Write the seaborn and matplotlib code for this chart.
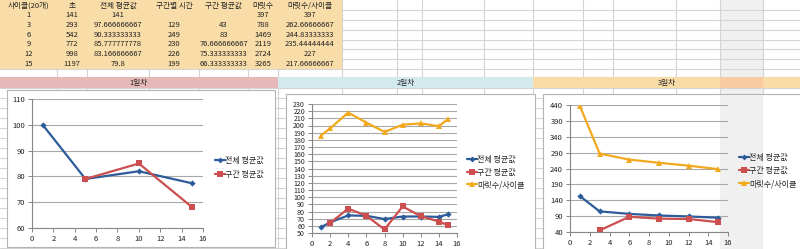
import matplotlib
matplotlib.use("Agg")
import matplotlib.pyplot as plt
import seaborn as sns
import pandas as pd
from matplotlib.patches import Rectangle
from matplotlib.lines import Line2D

sns.set_theme(style="white")
plt.rcParams['font.family'] = ['Noto Sans CJK KR', 'DejaVu Sans']

# ---------------- data ----------------
table_header = ["사이클(20개)", "초", "전체 평균값", "구간별 시간", "구간 평균값", "마릿수", "마릿수/사이클"]
col_cycle = ["1", "3", "6", "9", "12", "15"]
col_sec = ["141", "293", "542", "772", "998", "1197"]
col_total_avg = ["141", "97.666666667", "90.333333333", "85.777777778", "83.166666667", "79.8"]
col_interval_time = ["", "129", "249", "230", "226", "199"]
col_interval_avg = ["", "43", "83", "76.666666667", "75.333333333", "66.333333333"]
col_count = ["397", "788", "1469", "2119", "2724", "3265"]
col_count_per_cycle = ["397", "262.66666667", "244.83333333", "235.44444444", "227", "217.66666667"]

day_titles = ["1일차", "2일차", "3일차"]
series_names = ["전체 평균값", "구간 평균값", "마릿수/사이클"]

d1_x_total = [1, 5, 10, 15]
d1_total = [100, 79, 82, 77.3]
d1_x_int = [5, 10, 15]
d1_int = [79, 85, 68]

d2_x = [1, 2, 4, 6, 8, 10, 12, 14, 15]
d2_total = [58, 65, 74.5, 74, 69.5, 73, 73, 72.5, 76]
d2_x_int = [2, 4, 6, 8, 10, 12, 14, 15]
d2_int = [64, 84, 74, 55, 87, 73.5, 66, 61]
d2_count = [186, 196, 218, 204, 191, 201, 203, 199, 209]

d3_x = [1, 3, 6, 9, 12, 15]
d3_total = [153, 105, 97, 92, 89, 85]
d3_x_int = [3, 6, 9, 12, 15]
d3_int = [45, 88, 82, 81, 71]
d3_count = [437, 287, 268, 258, 249, 238]

x_ticks = list(range(0, 17, 2))
d1_yticks = list(range(60, 111, 10))
d2_yticks = list(range(50, 231, 10))
d3_yticks = list(range(40, 441, 50))

# ---------------- styles ----------------
W, H = 800, 249
BLUE = "#2E5B9A"
RED = "#CC4E4E"
GOLD = "#F2A91E"
GRID = "#D4D4D4"
FS = 5.5

fig = plt.figure(figsize=(W / 100, H / 100), dpi=100)
bg = fig.add_axes([0, 0, 1, 1], zorder=0)
bg.set_xlim(0, W)
bg.set_ylim(H, 0)
bg.axis('off')

# selected column shading
bg.add_patch(Rectangle((720, 0), 43, H, facecolor="#F0F0F0", edgecolor="none", zorder=0))

# spreadsheet gridlines
col_lines = [57, 87, 149, 199, 248, 278, 342, 397, 422, 484, 533, 583, 613, 676, 720, 763]
row_lines = [10, 20, 30, 39.5, 49, 59, 68.5, 77, 88] + list(range(98, H, 10))
for cx in col_lines:
    bg.plot([cx, cx], [0, H], color=GRID, lw=0.8, zorder=1)
for ry in row_lines:
    bg.plot([0, W], [ry, ry], color=GRID, lw=0.8, zorder=1)

# table
bg.add_patch(Rectangle((0, 0), 342, 68.5, facecolor="#F9DDA8", edgecolor="none", zorder=2))
col_bounds = [0, 57, 87, 149, 199, 248, 278, 342]
columns = [col_cycle, col_sec, col_total_avg, col_interval_time, col_interval_avg, col_count, col_count_per_cycle]
row_y = [15, 25, 34.5, 44, 54, 64]
for i, hdr in enumerate(table_header):
    cx = (col_bounds[i] + col_bounds[i + 1]) / 2
    bg.text(cx, 5.5, hdr, ha='center', va='center', fontsize=FS, color="#222222", zorder=3)
    for j, val in enumerate(columns[i]):
        bg.text(cx, row_y[j], val, ha='center', va='center', fontsize=FS, color="#222222", zorder=3)

# day header bars
bars = [(0, 278, "#E6B9B8"), (278, 533, "#D2E9EE"), (533, W, "#F8DBA6")]
for (x0, x1, c), t in zip(bars, day_titles):
    bg.add_patch(Rectangle((x0, 77), x1 - x0, 11, facecolor=c, edgecolor="none", zorder=2))
    bg.text((x0 + x1) / 2, 82.5, t, ha='center', va='center', fontsize=FS, color="#222222", zorder=3)
bg.add_patch(Rectangle((720, 77), 43, 11, facecolor="#F8CBA0", edgecolor="none", zorder=2))

# chart boxes
bg.add_patch(Rectangle((7, 90), 268, 157, facecolor="white", edgecolor="#B4B4B4", lw=0.8, zorder=4))
bg.add_patch(Rectangle((286, 94), 249, 162, facecolor="white", edgecolor="#B4B4B4", lw=0.8, zorder=4))
bg.add_patch(Rectangle((543, 94), 300, 162, facecolor="white", edgecolor="#B4B4B4", lw=0.8, zorder=4))
bg.add_patch(Rectangle((720, 94.5), 43, H, facecolor="#F0F0F0", edgecolor="none", zorder=5))


def make_ax(l, t, r, b, yticks, ylabelsize=FS):
    ax = fig.add_axes([l / W, (H - b) / H, (r - l) / W, (b - t) / H], zorder=3)
    ax.patch.set_alpha(0)
    for s in ["top", "right"]:
        ax.spines[s].set_visible(False)
    for s in ["left", "bottom"]:
        ax.spines[s].set_color("#868686")
        ax.spines[s].set_linewidth(0.8)
    ax.set_xlim(0, 16)
    ax.set_ylim(yticks[0], yticks[-1])
    ax.set_xticks(x_ticks)
    ax.set_yticks(yticks)
    ax.yaxis.grid(True, color="#A8A8A8", lw=0.8)
    ax.xaxis.grid(False)
    ax.set_axisbelow(True)
    ax.tick_params(direction='out', length=3, width=0.7, color="#868686",
                   labelsize=FS, pad=2, labelcolor="#222222",
                   bottom=True, left=True)
    ax.tick_params(axis='y', labelsize=ylabelsize)
    ax.set_xlabel("")
    ax.set_ylabel("")
    return ax


def draw(ax, x, y, color, marker, ms):
    df = pd.DataFrame({"x": x, "y": y})
    sns.lineplot(data=df, x="x", y="y", ax=ax, color=color, marker=marker,
                 markersize=ms, linewidth=1.6, markeredgewidth=0, legend=False)
    ax.set_xlabel("")
    ax.set_ylabel("")


def handles(n):
    spec = [(BLUE, 'D', 3.0), (RED, 's', 3.8), (GOLD, '^', 4.0)]
    return [Line2D([0], [0], color=c, marker=m, markersize=s, lw=1.6, markeredgewidth=0)
            for c, m, s in spec[:n]]


def legend(ax, n, x, yc, spacing):
    ax.legend(handles(n), series_names[:n], loc='center left',
              bbox_to_anchor=(x / W, 1 - yc / H), bbox_transform=fig.transFigure,
              frameon=False, fontsize=FS + 0.3, handlelength=1.2, handletextpad=0.1,
              borderpad=0, borderaxespad=0, labelspacing=spacing)


ax1 = make_ax(32, 99, 203, 228, d1_yticks)
draw(ax1, d1_x_total, d1_total, BLUE, 'D', 3.2)
draw(ax1, d1_x_int, d1_int, RED, 's', 4.5)
legend(ax1, 2, 215, 167.5, 0.6)

ax2 = make_ax(312, 104, 457, 233, d2_yticks, ylabelsize=FS - 0.4)
draw(ax2, d2_x, d2_count, GOLD, '^', 4.5)
draw(ax2, d2_x, d2_total, BLUE, 'D', 3.2)
draw(ax2, d2_x_int, d2_int, RED, 's', 4.5)
legend(ax2, 3, 467, 172, 0.45)

ax3 = make_ax(570, 105, 728, 232, d3_yticks)
draw(ax3, d3_x, d3_count, GOLD, '^', 4.5)
draw(ax3, d3_x, d3_total, BLUE, 'D', 3.2)
draw(ax3, d3_x_int, d3_int, RED, 's', 4.5)
legend(ax3, 3, 739, 170.5, 0.5)

fig.savefig("out.png", dpi=100)
